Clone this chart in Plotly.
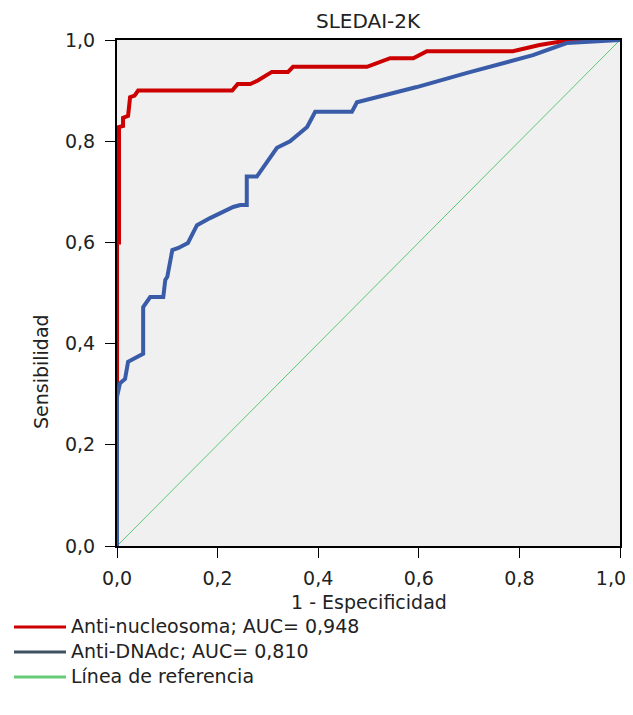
import plotly.graph_objects as go

# ROC data (1 - specificity, sensitivity)
nuc_fpr = [0, 0, 0.004, 0.004, 0.012, 0.012, 0.022, 0.026, 0.035, 0.042, 0.229, 0.24, 0.265, 0.28, 0.308, 0.34, 0.35, 0.497, 0.543, 0.589, 0.616, 0.787, 0.84, 0.9, 1.0]
nuc_tpr = [0, 0.6, 0.6, 0.828, 0.83, 0.846, 0.85, 0.887, 0.89, 0.9, 0.9, 0.913, 0.913, 0.92, 0.937, 0.937, 0.947, 0.947, 0.964, 0.964, 0.978, 0.978, 0.99, 1.0, 1.0]

dna_fpr = [0, 0, 0.006, 0.016, 0.022, 0.045, 0.052, 0.052, 0.066, 0.092, 0.096, 0.1, 0.11, 0.122, 0.141, 0.159, 0.185, 0.231, 0.245, 0.258, 0.258, 0.278, 0.318, 0.344, 0.378, 0.394, 0.467, 0.477, 0.549, 0.596, 0.696, 0.827, 0.894, 1.0]
dna_tpr = [0, 0.295, 0.322, 0.33, 0.364, 0.377, 0.38, 0.472, 0.492, 0.492, 0.526, 0.532, 0.585, 0.589, 0.599, 0.634, 0.648, 0.67, 0.674, 0.674, 0.73, 0.73, 0.787, 0.8, 0.828, 0.858, 0.858, 0.877, 0.895, 0.907, 0.935, 0.97, 0.994, 1.0]

ref_x = [0, 1]
ref_y = [0, 1]

tick_vals = [0, 0.2, 0.4, 0.6, 0.8, 1.0]
tick_text = ["0,0", "0,2", "0,4", "0,6", "0,8", "1,0"]

legend_labels = ["Anti-nucleosoma; AUC= 0,948", "Anti-DNAdc; AUC= 0,810", "Línea de referencia"]
legend_colors = ["#CC0000", "#3E5061", "#66CC77"]

FONT = "DejaVu Sans"
TXT = "#222222"
FS = 19

# the page body adds an 8px margin; the figure is shrunk to compensate
OFF = 8
FIG_W, FIG_H = 633 - OFF, 715 - 2 * OFF
# plot-area geometry in reference (page) pixels
L, R, T, B = 117, 620, 40, 546
W, H = R - L, B - T


def px_x(px):
    return (px - L) / W


def px_y(py):
    return (B - py) / H


fig = go.Figure()
fig.add_trace(go.Scatter(x=ref_x, y=ref_y, mode="lines", line=dict(color="#5CC875", width=1), showlegend=False))
fig.add_trace(go.Scatter(x=nuc_fpr, y=nuc_tpr, mode="lines", line=dict(color="#CC0000", width=4), showlegend=False))
fig.add_trace(go.Scatter(x=dna_fpr, y=dna_tpr, mode="lines", line=dict(color="#3A5CA8", width=4), showlegend=False))

axis_common = dict(
    range=[0, 1], tickvals=tick_vals,
    showgrid=False, zeroline=False,
    showline=True, linecolor="black", linewidth=2, mirror=True,
    ticks="outside", ticklen=10, tickcolor="black", tickwidth=1,
    tickfont=dict(family=FONT, size=FS, color=TXT),
    ticklabeloverflow="allow",
)

# the last x label is padded on the right so it stays inside the page edge
x_tick_text = tick_text[:-1] + [tick_text[-1] + "\u00a0" * 3]

fig.update_xaxes(**axis_common, ticktext=x_tick_text, ticklabelstandoff=4)
fig.update_yaxes(**axis_common, ticktext=tick_text, ticklabelstandoff=6)

annotations = [
    dict(text="SLEDAI-2K", x=0.5, y=px_y(OFF), xref="paper", yref="paper",
         showarrow=False, font=dict(family=FONT, size=20, color=TXT), yanchor="top", borderpad=0),
    dict(text="1 - Especificidad", x=0.5, xref="paper", y=px_y(602), yref="paper",
         showarrow=False, font=dict(family=FONT, size=FS, color=TXT), yanchor="middle"),
    dict(text="Sensibilidad", x=px_x(28), xref="paper", y=px_y(372), yref="paper",
         showarrow=False, textangle=-90, font=dict(family=FONT, size=FS, color=TXT)),
]

shapes = []
leg_y_px = [626, 651, 676]
for lab, col, ypx in zip(legend_labels, legend_colors, leg_y_px):
    shapes.append(dict(type="line", xref="paper", yref="paper",
                       x0=px_x(14), x1=px_x(66), y0=px_y(ypx + 1), y1=px_y(ypx + 1),
                       line=dict(color=col, width=3)))
    annotations.append(dict(text=lab, xref="paper", yref="paper",
                            x=px_x(69), y=px_y(ypx), xanchor="left", yanchor="middle",
                            showarrow=False, font=dict(family=FONT, size=FS, color=TXT)))

fig.update_layout(
    width=FIG_W, height=FIG_H,
    margin=dict(l=L - OFF, r=FIG_W - (R - OFF), t=T - OFF, b=FIG_H - (B - OFF), autoexpand=False),
    plot_bgcolor="#F0F0F0", paper_bgcolor="white",
    annotations=annotations, shapes=shapes,
    showlegend=False,
)

fig.write_html("out.html")
